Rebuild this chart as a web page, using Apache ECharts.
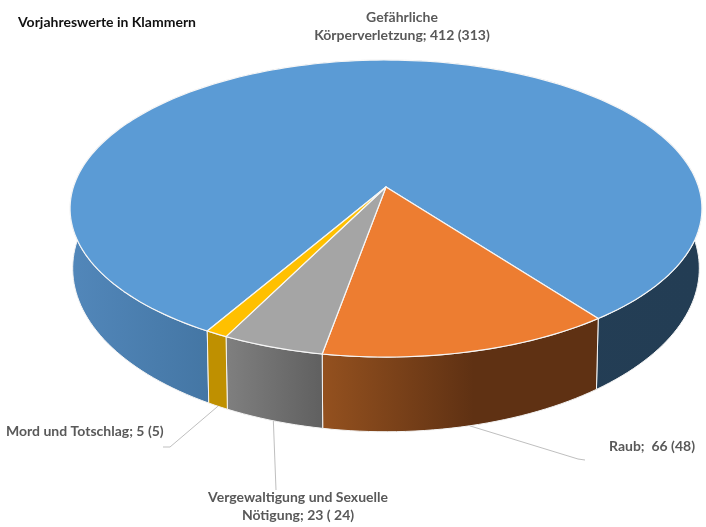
<!DOCTYPE html>
<html>
<head>
<meta charset="utf-8">
<style>html,body{margin:0;padding:0;background:#fff}#c{width:706px;height:527px}</style>
<script src="https://cdn.jsdelivr.net/npm/echarts@6/dist/echarts.min.js"></script>
</head>
<body>
<div id="c"></div>
<script>
var note = 'Vorjahreswerte in Klammern';
var categories = ['Gefährliche Körperverletzung', 'Raub', 'Vergewaltigung und Sexuelle Nötigung', 'Mord und Totschlag'];
var values = [412, 66, 23, 5];
var priorValues = [313, 48, 24, 5];
var labelTexts = ['Gefährliche\nKörperverletzung; 412 (313)', 'Raub;  66 (48)', 'Vergewaltigung und Sexuelle\nNötigung; 23 ( 24)', 'Mord und Totschlag; 5 (5)'];

var topColors = ['#5B9BD5', '#ED7D31', '#A5A5A5', '#FFC000'];
var sideStops = [
  [[0, '#5287ba'], [0.22, '#4476a4'], [0.221, '#243f57'], [1, '#233d54']],
  [[0, '#94511f'], [0.55, '#5f3113'], [1, '#5f3113']],
  [[0, '#7f7f7f'], [1, '#606060']],
  [[0, '#bf9000'], [1, '#bf9000']]
];
var sideSpan = [[70, 702], [322, 598], [227, 322], [207, 227]];

// Perspective projection of the pie disc
var P = { cx: 386, p: 0.145, top: { y: 187, a: 312.6, b: 145.4 }, bottom: { y: 244.6, a: 310, b: 160 } };
var START_DEG = -30;
var labelPos = [
  { x: 402, y: 26, align: 'center' },
  { x: 609, y: 446, align: 'left' },
  { x: 298, y: 506, align: 'center' },
  { x: 6, y: 431, align: 'left' }
];
var leaderEnds = [
  null,
  [[578, 459], [585, 460]],
  [[276, 490]],
  [[170, 447], [163, 447]]
];

var total = values.reduce(function (s, v) { return s + v; }, 0);
function sliceAngles(i) {
  var before = 0;
  for (var k = 0; k < i; k++) before += values[k];
  return [START_DEG - before / total * 360, START_DEG - (before + values[i]) / total * 360];
}
function project(deg, disc) {
  var t = deg * Math.PI / 180, u = Math.sin(t), v = Math.cos(t), w = 1 - P.p * v;
  return [P.cx + disc.a * u / w, disc.y + disc.b * v / w];
}
function arc(a0, a1, disc) {
  var n = Math.max(2, Math.ceil(Math.abs(a1 - a0) / 1.5)), pts = [];
  for (var i = 0; i <= n; i++) pts.push(project(a0 + (a1 - a0) * i / n, disc));
  return pts;
}
function renderSide(params, api) {
  var i = params.dataIndex, a = sliceAngles(i);
  var pts = arc(a[0], a[1], P.top).concat(arc(a[0], a[1], P.bottom).reverse());
  return {
    type: 'polygon', shape: { points: pts },
    style: {
      fill: new echarts.graphic.LinearGradient(sideSpan[i][0], 0, sideSpan[i][1], 0,
        sideStops[i].map(function (s) { return { offset: s[0], color: s[1] }; }), true),
      stroke: '#f4f4f4', lineWidth: 1
    }
  };
}
function renderTop(params, api) {
  var i = params.dataIndex, a = sliceAngles(i);
  var pts = [[P.cx, P.top.y]].concat(arc(a[0], a[1], P.top));
  return {
    type: 'polygon', shape: { points: pts },
    style: { fill: topColors[i], stroke: '#f6f6f6', lineWidth: 1.2, lineJoin: 'round' }
  };
}
function renderLabel(params, api) {
  var i = params.dataIndex, a = sliceAngles(i), children = [];
  if (leaderEnds[i]) {
    var pts = [project((a[0] + a[1]) / 2, P.bottom)].concat(leaderEnds[i]);
    children.push({ type: 'polyline', shape: { points: pts }, style: { fill: null, stroke: '#bfbfbf', lineWidth: 1 } });
  }
  children.push({
    type: 'text',
    style: {
      x: labelPos[i].x, y: labelPos[i].y, text: labelTexts[i], align: labelPos[i].align, verticalAlign: 'middle',
      fill: '#595959', font: 'bold 14px Lato', lineHeight: 18
    }
  });
  return { type: 'group', children: children };
}
var rows = categories.map(function (c, i) { return { name: c, value: [values[i], priorValues[i]] }; });
function layer(fn) {
  return { type: 'custom', coordinateSystem: 'none', renderItem: fn, data: rows, silent: true, animation: false, clip: false };
}
var chart = echarts.init(document.getElementById('c'), null, { renderer: 'canvas' });
chart.setOption({
  animation: false,
  backgroundColor: '#fff',
  title: { text: note, left: 18, top: 15, padding: 0, textStyle: { fontFamily: 'Lato', fontWeight: 'bold', fontSize: 14, color: '#111' } },
  series: [layer(renderSide), layer(renderTop), layer(renderLabel)]
});
</script>
</body>
</html>
